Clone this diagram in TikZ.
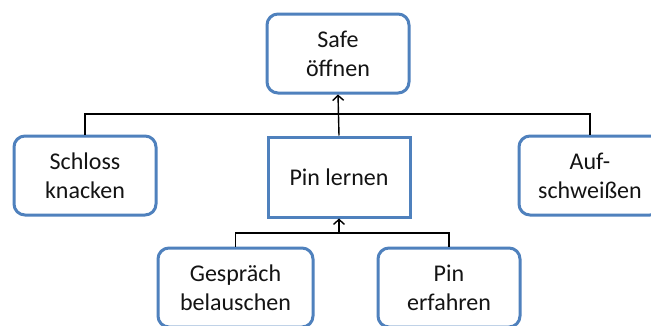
\documentclass[tikz,border=0pt]{standalone}
\usepackage{fontspec}
\setmainfont{Carlito}
\usetikzlibrary{arrows.meta}
\definecolor{boxblue}{RGB}{79,129,189}
\definecolor{ink}{RGB}{20,20,20}
\begin{document}
\begin{tikzpicture}[x=1pt,y=-1pt,
  goal/.style={draw=boxblue, line width=3pt, fill=white, rounded corners=11pt,
    minimum width=142pt, minimum height=79pt, align=center, inner sep=0pt,
    text=ink, font=\fontsize{24pt}{29pt}\selectfont},
  focus/.style={goal, rounded corners=0pt, minimum height=80pt},
  link/.style={draw=black, line width=1.4pt},
  tip/.style={-{Straight Barb[length=5pt,width=11pt,line width=1.4pt]}}]
  \useasboundingbox (0,0) rectangle (651,325);
  \clip (0,0) rectangle (651,325);
  \fill[white] (0,0) rectangle (651,325);

  % nodes
  \node[goal]  (safe)   at (338,53.5)  {Safe\\öffnen};
  \node[goal]  (schloss) at (85,175.5) {Schloss\\knacken};
  \node[focus] (pin)    at (339,177)   {Pin lernen};
  \node[goal]  (auf)    at (590,175.5) {Auf-\\schweißen};
  \node[goal, minimum width=155pt] (gespr) at (235.5,287.5) {Gespräch\\belauschen};
  \node[goal]  (erf)    at (449,287.5) {Pin\\erfahren};

  % junction points of the tree
  \coordinate (jt) at (339,114);
  \coordinate (jb) at (339,233);

  % upper level: alternatives for opening the safe
  \draw[link] (schloss.north) |- (jt) -| (auf.north);
  \draw[link, tip] (pin.north) -- (safe.south);

  % lower level: ways of learning the pin
  \draw[link] (gespr.north) |- (jb) -| (erf.north);
  \draw[link, tip] (jb) -- (pin.south);
\end{tikzpicture}
\end{document}
